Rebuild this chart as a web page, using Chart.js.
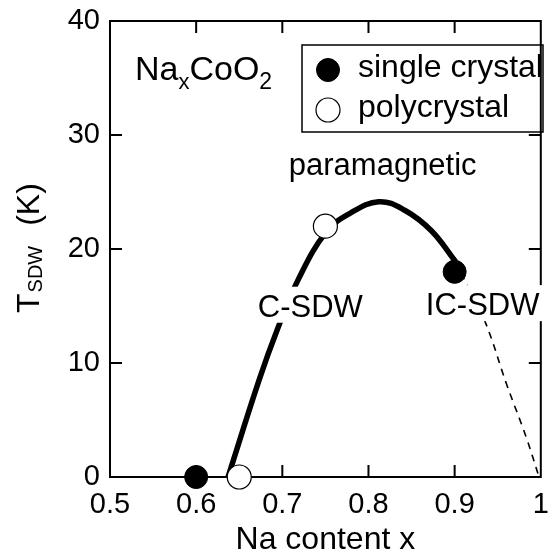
<!DOCTYPE html>
<html lang="en">
<head>
<meta charset="UTF-8">
<title>T_SDW vs Na content</title>
<script src="https://cdn.jsdelivr.net/npm/chart.js"></script>
<style>
  html, body { margin: 0; padding: 0; background: #fff; }
  #wrap { width: 554px; height: 556px; }
</style>
</head>
<body>
<div id="wrap"><canvas id="sdwChart" width="554" height="556"></canvas></div>
<script>
const FONT = '"Liberation Sans", Arial, Helvetica, sans-serif';

const xTicks = [0.5, 0.6, 0.7, 0.8, 0.9, 1];
const yTicks = [0, 10, 20, 30, 40];

// measured points
const singleX = [0.6, 0.9];
const singleY = [0, 18];
const polyX = [0.65, 0.75];
const polyY = [0, 22];

// phase boundary (solid) and its extrapolation (dashed)
const boundaryX = [0.637, 0.673, 0.694, 0.719, 0.751, 0.778, 0.812, 0.842, 0.873, 0.901];
const boundaryY = [0, 8.5, 12.9, 17.4, 21.5, 23.1, 24.15, 23.4, 21.6, 18.9];
const extrapX = [0.901, 0.914, 0.936, 0.96, 0.983, 0.998];
const extrapY = [18.9, 16.9, 13.5, 8.2, 3.5, 0];

// text labels placed in data units
const phaseLabels = ['paramagnetic', 'C-SDW', 'IC-SDW'];
const phaseLabelX = [0.8165, 0.7325, 0.9325];
const phaseLabelY = [26.5, 14.06, 14.2];

const toPoints = (xs, ys) => xs.map((x, i) => ({ x: x, y: ys[i] }));

const framePlugin = {
  id: 'frame',
  beforeDatasetsDraw(chart) {
    const { ctx, chartArea: a, scales: { x, y } } = chart;
    ctx.save();
    ctx.strokeStyle = '#000';
    ctx.lineWidth = 2;
    ctx.strokeRect(a.left, a.top, a.right - a.left, a.bottom - a.top);
    ctx.beginPath();
    xTicks.slice(1, -1).forEach(v => {
      const px = x.getPixelForValue(v);
      ctx.moveTo(px, a.bottom); ctx.lineTo(px, a.bottom - 12);
      ctx.moveTo(px, a.top); ctx.lineTo(px, a.top + 12);
    });
    yTicks.slice(1, -1).forEach(v => {
      const py = y.getPixelForValue(v);
      ctx.moveTo(a.left, py); ctx.lineTo(a.left + 12, py);
      ctx.moveTo(a.right, py); ctx.lineTo(a.right - 12, py);
    });
    ctx.stroke();
    ctx.restore();
  }
};

const textPlugin = {
  id: 'texts',
  afterDatasetsDraw(chart) {
    const { ctx, scales: { x, y } } = chart;
    ctx.save();
    ctx.fillStyle = '#000';
    ctx.textBaseline = 'alphabetic';

    // phase names, SDW ones knock out the lines behind them
    ctx.font = '31px ' + FONT;
    ctx.textAlign = 'center';
    phaseLabels.forEach((t, i) => {
      const cx = x.getPixelForValue(phaseLabelX[i]);
      const by = y.getPixelForValue(phaseLabelY[i]);
      if (i > 0) {
        const w = ctx.measureText(t).width;
        ctx.fillStyle = '#fff';
        ctx.fillRect(cx - w / 2 - 3, by - 30, w + 6, 36);
        ctx.fillStyle = '#000';
      }
      ctx.fillText(t, cx, by);
    });

    // NaxCoO2
    ctx.textAlign = 'left';
    let px = x.getPixelForValue(0.529);
    const base = y.getPixelForValue(34.8);
    const parts = [['Na', 34, 0], ['x', 22, 9], ['CoO', 34, 0], ['2', 23, 9]];
    parts.forEach(([t, size, dy]) => {
      ctx.font = size + 'px ' + FONT;
      ctx.fillText(t, px, base + dy);
      px += ctx.measureText(t).width;
    });

    // legend
    const ds = chart.data.datasets;
    ctx.strokeStyle = '#000';
    ctx.lineWidth = 1.5;
    ctx.strokeRect(302, 45, 241, 87);
    [[0, 70, 77], [1, 110, 117]].forEach(([i, my, ty]) => {
      ctx.beginPath();
      ctx.arc(328, my, ds[i].pointRadius, 0, Math.PI * 2);
      ctx.fillStyle = ds[i].backgroundColor;
      ctx.fill();
      ctx.lineWidth = ds[i].pointBorderWidth;
      ctx.stroke();
      ctx.fillStyle = '#000';
      ctx.font = '32px ' + FONT;
      ctx.fillText(ds[i].label, 358, ty);
    });
    ctx.restore();
  },
  afterDraw(chart) {
    // y axis title with subscript, rotated
    const { ctx } = chart;
    ctx.save();
    ctx.fillStyle = '#000';
    ctx.textAlign = 'left';
    ctx.textBaseline = 'alphabetic';
    ctx.translate(39, 313);
    ctx.rotate(-Math.PI / 2);
    ctx.font = '32px ' + FONT;
    ctx.fillText('T', 0, 0);
    let w = ctx.measureText('T').width;
    ctx.font = '20px ' + FONT;
    ctx.fillText('SDW', w + 1, 3);
    w += 1 + ctx.measureText('SDW').width;
    ctx.font = '32px ' + FONT;
    ctx.fillText('(K)', w + 20, 0);
    ctx.restore();
  }
};

const tickFont = { family: FONT, size: 29 };

new Chart(document.getElementById('sdwChart'), {
  type: 'scatter',
  data: {
    datasets: [
      {
        label: 'single crystal',
        data: toPoints(singleX, singleY),
        pointRadius: 11.5,
        backgroundColor: '#000',
        borderColor: '#000',
        pointBorderWidth: 1,
        clip: false
      },
      {
        label: 'polycrystal',
        data: toPoints(polyX, polyY),
        pointRadius: 12,
        backgroundColor: '#fff',
        borderColor: '#000',
        pointBorderWidth: 1.2,
        clip: false
      },
      {
        label: 'boundary',
        data: toPoints(boundaryX, boundaryY),
        showLine: true,
        pointRadius: 0,
        borderColor: '#000',
        borderWidth: 5.5,
        tension: 0.4,
        clip: false
      },
      {
        label: 'extrapolation',
        data: toPoints(extrapX, extrapY),
        showLine: true,
        pointRadius: 0,
        borderColor: '#000',
        borderWidth: 1.6,
        borderDash: [7, 6],
        tension: 0.4,
        clip: false
      }
    ]
  },
  options: {
    responsive: false,
    animation: false,
    layout: { padding: { top: 21, right: 6, left: 0, bottom: 0 } },
    plugins: {
      legend: { display: false },
      tooltip: { enabled: false }
    },
    scales: {
      x: {
        type: 'linear',
        min: 0.5,
        max: 1,
        afterBuildTicks: s => { s.ticks = xTicks.map(v => ({ value: v })); },
        afterFit: s => { s.height = 79; s.paddingLeft = 0; s.paddingRight = 0; },
        grid: { display: false, drawTicks: false },
        border: { display: false },
        ticks: { font: tickFont, color: '#000', padding: 11, maxRotation: 0, autoSkip: false, callback: v => String(v) },
        title: { display: true, text: 'Na content x', color: '#000', font: { family: FONT, size: 32, lineHeight: 1 }, padding: 0 }
      },
      y: {
        type: 'linear',
        min: 0,
        max: 40,
        afterBuildTicks: s => { s.ticks = yTicks.map(v => ({ value: v })); },
        afterFit: s => { s.width = 110; s.paddingTop = 0; s.paddingBottom = 0; },
        grid: { display: false, drawTicks: false },
        border: { display: false },
        ticks: { font: tickFont, color: '#000', padding: 10, autoSkip: false, callback: v => String(v) }
      }
    }
  },
  plugins: [framePlugin, textPlugin]
});
</script>
</body>
</html>
